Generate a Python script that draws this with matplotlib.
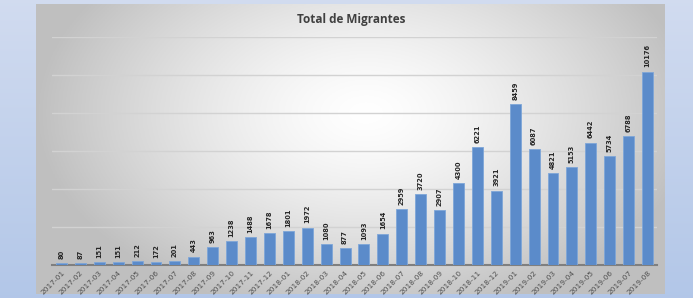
import numpy as np
import matplotlib
matplotlib.use('Agg')
import matplotlib.pyplot as plt

months = ['2017-01', '2017-02', '2017-03', '2017-04', '2017-05', '2017-06',
          '2017-07', '2017-08', '2017-09', '2017-10', '2017-11', '2017-12',
          '2018-01', '2018-02', '2018-03', '2018-04', '2018-05', '2018-06',
          '2018-07', '2018-08', '2018-09', '2018-10', '2018-11', '2018-12',
          '2019-01', '2019-02', '2019-03', '2019-04', '2019-05', '2019-06',
          '2019-07', '2019-08']
migrants = [80, 87, 151, 151, 212, 172, 201, 443, 963, 1238, 1488, 1678,
            1801, 1972, 1080, 877, 1093, 1654, 2959, 3720, 2907, 4300, 6221, 3921,
            8459, 6087, 4821, 5153, 6442, 5734, 6788, 10176]

W, H = 693, 298
fig = plt.figure(figsize=(W / 100, H / 100), dpi=100)

# light blue slide background
bg = fig.add_axes([0, 0, 1, 1])
yy = np.linspace(0, 1, 100)[:, None]
top = np.array([0.82, 0.86, 0.94])
bot = np.array([0.70, 0.78, 0.91])
grad = top * (1 - yy[..., None]) + bot * yy[..., None]
grad = np.repeat(grad, 10, axis=1)
bg.imshow(grad, aspect='auto', extent=[0, 1, 0, 1], origin='upper')
bg.axis('off')

# grey chart panel with radial gradient, bright spot a bit above centre
px0, px1, py0, py1 = 36, 665, 4, 294
panel = fig.add_axes([px0 / W, 1 - py1 / H, (px1 - px0) / W, (py1 - py0) / H])
gx, gy = np.meshgrid(np.linspace(-1, 1, 300), np.linspace(-1, 1, 150))
r = np.clip(np.sqrt(((gx - 0.05) * 0.95) ** 2 + ((gy + 0.25) * 0.7) ** 2), 0, 1)
shade = 1.0 - 0.25 * r ** 1.4
panel.imshow(np.dstack([shade] * 3), aspect='auto', extent=[0, 1, 0, 1])
panel.axis('off')

ax = fig.add_axes([52 / W, 1 - 265 / H, (657 - 52) / W, (265 - 37) / H])
ax.patch.set_alpha(0)
x = np.arange(len(months))
ax.bar(x, migrants, width=0.58, color='#5b8bca', edgecolor='#7ea6d8',
       linewidth=0.6, zorder=3)
for xi, v in zip(x, migrants):
    ax.annotate(str(v), (xi, v), xytext=(0, 3), textcoords='offset points',
                rotation=90, ha='center', va='bottom', fontsize=4.8,
                fontweight='bold', color='#262626')

ax.set_xlim(-0.5, len(months) - 0.5)
ax.set_ylim(0, 12000)
ax.set_yticks(np.arange(2000, 12001, 2000))
ax.yaxis.grid(True, color='#d2d2d2', linewidth=1.0, zorder=0)
ax.tick_params(axis='y', length=0, labelleft=False)
ax.set_xticks(x)
ax.set_xticklabels(months, rotation=45, ha='right', rotation_mode='anchor',
                   fontsize=5.3, color='#505050')
ax.tick_params(axis='x', length=0, pad=3)
for s in ['top', 'right', 'left']:
    ax.spines[s].set_visible(False)
ax.spines['bottom'].set_color('#7f7f7f')
ax.spines['bottom'].set_linewidth(1.5)

fig.text(351 / W, 1 - 20 / H, 'Total de Migrantes', ha='center', va='center',
         fontsize=8.5, fontweight='bold', color='#404040', family='Open Sans')

fig.savefig('out.png', dpi=100)
